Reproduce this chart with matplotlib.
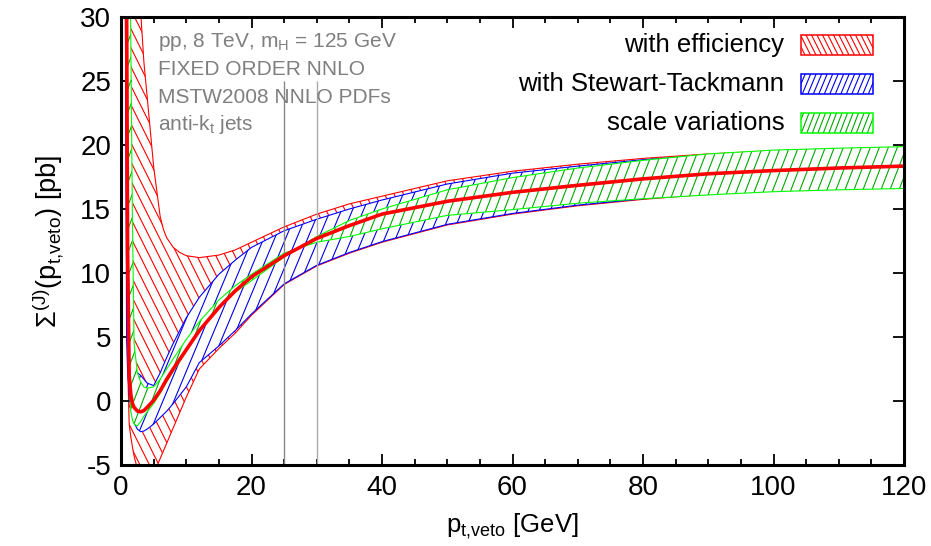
import numpy as np
import matplotlib
matplotlib.use('Agg')
import matplotlib.pyplot as plt
from matplotlib.collections import LineCollection
from matplotlib.patches import Rectangle
from matplotlib.ticker import MultipleLocator

plt.rcParams['font.family'] = ['Liberation Sans', 'DejaVu Sans']
plt.rcParams['mathtext.default'] = 'regular'
plt.rcParams['axes.unicode_minus'] = False

# values (pt,veto in GeV, cross section in pb)
pt = [0.5, 0.75, 0.85, 1.0, 1.25, 1.5, 1.75, 2.0, 2.5, 3.0, 3.5, 4.0, 5.0, 6.0, 6.5, 7.0, 8.0, 9.0,
      10.0, 12.0, 15.0, 17.5, 20.0, 25.0, 30.0, 35.0, 40.0, 50.0, 60.0, 70.0, 80.0, 90.0,
      100.0, 110.0, 120.0]
central = [80, 45, 32, 12, 2.0, 0.5, -0.2, -0.5, -0.78, -0.85, -0.75, -0.5, 0.05, 0.8, 1.25, 1.7, 2.5, 3.25,
           4.0, 5.5, 7.3, 8.6, 9.7, 11.35, 12.7, 13.7, 14.6, 15.6, 16.3, 16.85, 17.35, 17.75,
           18.0, 18.2, 18.35]
# with efficiency
eff_hi = [80, 70, 65, 60, 55, 50, 46, 42, 36, 30.5, 26.5, 23.8, 18.3, 14.4, 13.4, 12.75, 12.0, 11.6,
          11.35, 11.2, 11.4, 11.8, 12.4, 13.6, 14.6, 15.4, 16.0, 17.2, 17.95, 18.5, 18.95, 19.3,
          19.55, 19.7, 19.8]
eff_lo = [60, 25, 12, 3.0, -1.8, -2.8, -3.6, -4.3, -5.3, -6.2, -6.6, -6.7, -5.7, -4.5, -3.9, -3.3, -2.1, -0.9,
          0.3, 2.5, 4.1, 5.3, 6.7, 9.1, 10.55, 11.55, 12.4, 13.75, 14.6, 15.25, 15.75, 16.15,
          16.45, 16.65, 16.8]
# with Stewart-Tackmann
st_hi = [90, 80, 75, 60, 35, 12, 3.5, 2.6, 2.2, 2.0, 1.7, 1.4, 1.2, 2.2, 2.8, 3.4, 4.5, 5.5,
         6.5, 8.1, 9.9, 11.0, 12.0, 13.3, 14.2, 15.0, 15.7, 16.95, 17.8, 18.35, 18.85, 19.2,
         19.45, 19.65, 19.75]
st_lo = [50, 20, 5.0, 2.5, 0.5, -0.6, -1.3, -1.7, -2.2, -2.4, -2.35, -2.2, -1.8, -1.3, -1.05, -0.8, -0.2, 0.45,
         1.1, 3.0, 4.3, 5.5, 6.8, 9.15, 10.6, 11.6, 12.45, 13.8, 14.65, 15.3, 15.8, 16.2,
         16.5, 16.7, 16.85]
# scale variations (the two edges cross near 27 GeV)
scale_a = [70, 45, 40, 22, 1.5, -0.8, -1.5, -1.8, -1.95, -1.6, -1.2, -0.85, -0.2, 0.6, 1.05, 1.5, 2.3, 3.1,
           3.9, 5.4, 7.3, 8.5, 9.4, 11.25, 12.85, 14.1, 15.0, 16.5, 17.45, 18.2, 18.8, 19.3,
           19.6, 19.75, 19.87]
scale_b = [80, 60, 50, 45, 40, 28, 14, 4.5, 2.2, 1.5, 1.1, 1.0, 1.1, 1.7, 2.1, 2.5, 3.3, 4.05,
           4.8, 6.2, 7.9, 9.0, 9.9, 11.55, 12.4, 12.85, 13.45, 14.5, 14.95, 15.45, 15.8, 16.1,
           16.35, 16.5, 16.6]

veto_lines = [25, 30]
labels = ['with efficiency', 'with Stewart-Tackmann', 'scale variations']
info = ['pp, 8 TeV, m$_H$ = 125 GeV', 'FIXED ORDER NNLO', 'MSTW2008 NNLO PDFs', 'anti-k$_t$ jets']

fig = plt.figure(figsize=(9.31, 5.46), dpi=100)
ax = fig.add_axes([0.130, 0.1484, 0.841, 0.8205])


def hatch(path, trans, color, slope, step, z, lw=0.8):
    # steep hatch lines (gnuplot-like), clipped to a shape
    W, H = fig.get_size_inches() * fig.dpi
    run = H / abs(slope)
    segs = []
    for x0 in np.arange(-run - step, W + step, step):
        if slope > 0:
            segs.append([(x0 / W, 0), ((x0 + run) / W, 1)])
        else:
            segs.append([(x0 / W, 1), ((x0 + run) / W, 0)])
    lc = LineCollection(segs, colors=color, linewidths=lw, transform=fig.transFigure, zorder=z)
    ax.add_collection(lc, autolim=False)
    lc.set_clip_path(path, trans)
    lc.set_clip_box(ax.bbox)


bands = [(eff_lo, eff_hi, 'red', 'red', -2.0, 9.5),
         (st_lo, st_hi, '#0000ff', '#0000e8', 2.4, 11),
         (scale_a, scale_b, '#00ff00', '#00a800', 2.6, 9)]

for i, (lo, hi, ec, hc, slope, step) in enumerate(bands):
    z = 1 + i
    poly = ax.fill_between(pt, lo, hi, facecolor='white', edgecolor='none', zorder=z)
    hatch(poly.get_paths()[0], poly.get_transform(), hc, slope, step, z + 0.1)
    ax.plot(pt, lo, color=ec, lw=0.8, zorder=z + 0.2)
    ax.plot(pt, hi, color=ec, lw=0.8, zorder=z + 0.2)

ax.vlines(veto_lines, -5, 25, colors=['#888888', '#aaaaaa'], lw=1.0, zorder=3.5)
ax.plot(pt, central, color='red', lw=2.6, zorder=5)

# legend drawn by hand so the hatch matches
rows_y = [0.915, 0.828, 0.741]
for (lo, hi, ec, hc, slope, step), lab, y0 in zip(bands, labels, rows_y):
    face = Rectangle((0.868, y0), 0.092, 0.044, transform=ax.transAxes,
                     facecolor='white', edgecolor='none', zorder=6)
    ax.add_patch(face)
    hatch(face.get_path(), face.get_transform(), hc, slope, 5.5, 6.1)
    ax.add_patch(Rectangle((0.868, y0), 0.092, 0.044, transform=ax.transAxes,
                           facecolor='none', edgecolor=ec, lw=1.1, zorder=6.2))
    ax.text(0.847, y0 + 0.022, lab, transform=ax.transAxes, ha='right', va='center',
            fontsize=18.5, zorder=7)

for s, y in zip(info, [0.933, 0.8705, 0.808, 0.748]):
    ax.text(0.047, y, s, transform=ax.transAxes, ha='left', va='baseline',
            fontsize=15, color='#7f7f7f', zorder=7)

ax.set_xlim(0, 120)
ax.set_ylim(-5, 30)
ax.xaxis.set_major_locator(MultipleLocator(20))
ax.xaxis.set_minor_locator(MultipleLocator(5))
ax.yaxis.set_major_locator(MultipleLocator(5))
ax.tick_params(which='both', direction='in', top=True, right=True, width=1.3, labelsize=20)
ax.tick_params(which='major', length=8, pad=7)
ax.tick_params(which='minor', length=4.5)
for sp in ax.spines.values():
    sp.set_linewidth(2.2)
    sp.set_zorder(8)

ax.set_xlabel('p$_{t{,}veto}$ [GeV]', fontsize=18.5, labelpad=8)
ax.set_ylabel('Σ$^{(J)}$(p$_{t{,}veto}$) [pb]', fontsize=19.5, labelpad=10)

fig.savefig('out.png', dpi=100)
